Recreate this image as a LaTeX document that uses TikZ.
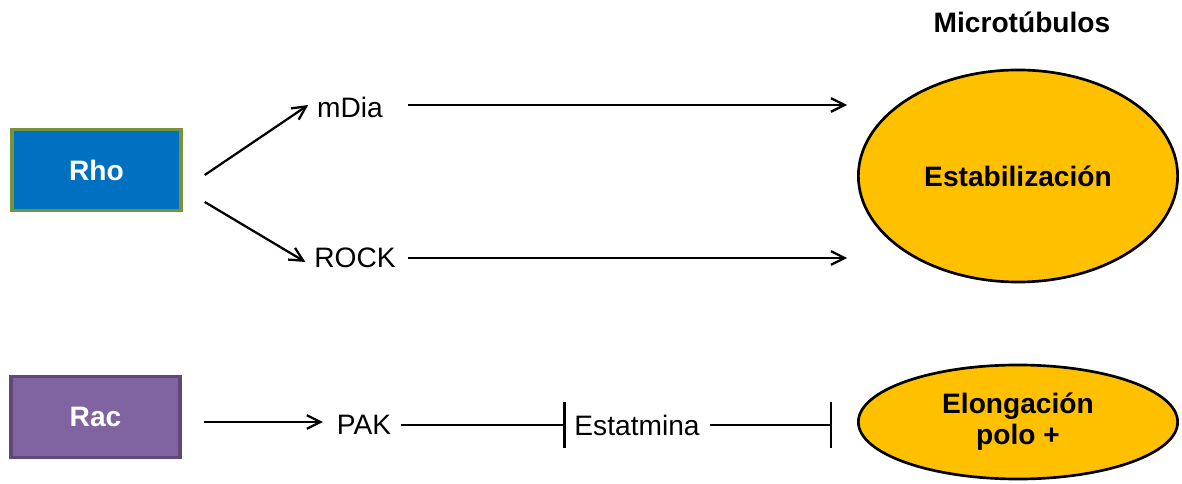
\documentclass[tikz,border=0pt]{standalone}
\usepackage{fontspec}
\setmainfont{Liberation Sans}
\usetikzlibrary{arrows.meta,calc,shapes.geometric}

\definecolor{rhoblue}{HTML}{0070C0}
\definecolor{rhoedge}{HTML}{77933C}
\definecolor{racpurple}{HTML}{8064A2}
\definecolor{racedge}{HTML}{5F497A}
\definecolor{mtgold}{HTML}{FFC000}

\begin{document}
\begin{tikzpicture}[x=0.025cm, y=-0.025cm,
    every node/.style={font=\fontsize{20}{24}\selectfont},
    gtpase/.style={draw, line width=2.6pt, minimum width=4.22cm, minimum height=2.02cm,
        text=white, font=\fontsize{20}{24}\selectfont\bfseries},
    mtbox/.style={ellipse, draw=black, line width=1.9pt, fill=mtgold, minimum width=7.98cm,
        align=center, font=\fontsize{20}{22}\selectfont\bfseries},
    activ/.style={-{Straight Barb[length=3.4mm,width=3.4mm]}, line width=1.6pt},
    inhib/.style={-{Bar[width=1.15cm,line width=1.6pt]}, line width=1.1pt}]

    \useasboundingbox (0,0) rectangle (1182,484);

    % GTPases
    \node[gtpase, fill=rhoblue, draw=rhoedge] (rho) at (96.5,170) {Rho};
    \node[gtpase, fill=racpurple, draw=racedge] (rac) at (95.5,417) {Rac};

    % Effectors
    \node (mdia) at (350,107) {mDia};
    \node (rock) at (355,258) {ROCK};
    \node (pak) at (364,425) {PAK};
    \node (estat) at (637,425) {Estatmina};

    % Microtubule outcomes
    \node[font=\fontsize{20}{24}\selectfont\bfseries] (mt) at (1022,22) {Microtúbulos};
    \node[mtbox, minimum height=5.3cm] (estab) at (1018,176) {Estabilización};
    \node[mtbox, minimum height=2.85cm] (elong) at (1018,422) {Elongación\\polo +};

    % Rho pathway
    \draw[activ] ($(rho.east)+(22,5)$) -- ($(mdia.west)+(-4,-2)$);
    \draw[activ] ($(rho.east)+(22,32)$) -- ($(rock.west)+(-4,4)$);
    \draw[activ] ($(mdia.east)+(20,-2)$) -- ($(mdia.east -| estab.west)+(-10,-2)$);
    \draw[activ] ($(rock.east)+(7,0)$) -- ($(rock.east -| estab.west)+(-10,0)$);

    % Rac pathway
    \draw[activ] ($(rac.east)+(22,5)$) -- ($(pak.west)+(-9,-3)$);
    \draw[inhib] ($(pak.east)+(5,0)$) -- ($(estat.west)+(-4,0)$);
    \draw[inhib] ($(estat.east)+(5,0)$) -- ($(estat.east -| elong.west)+(-25,0)$);
\end{tikzpicture}
\end{document}
